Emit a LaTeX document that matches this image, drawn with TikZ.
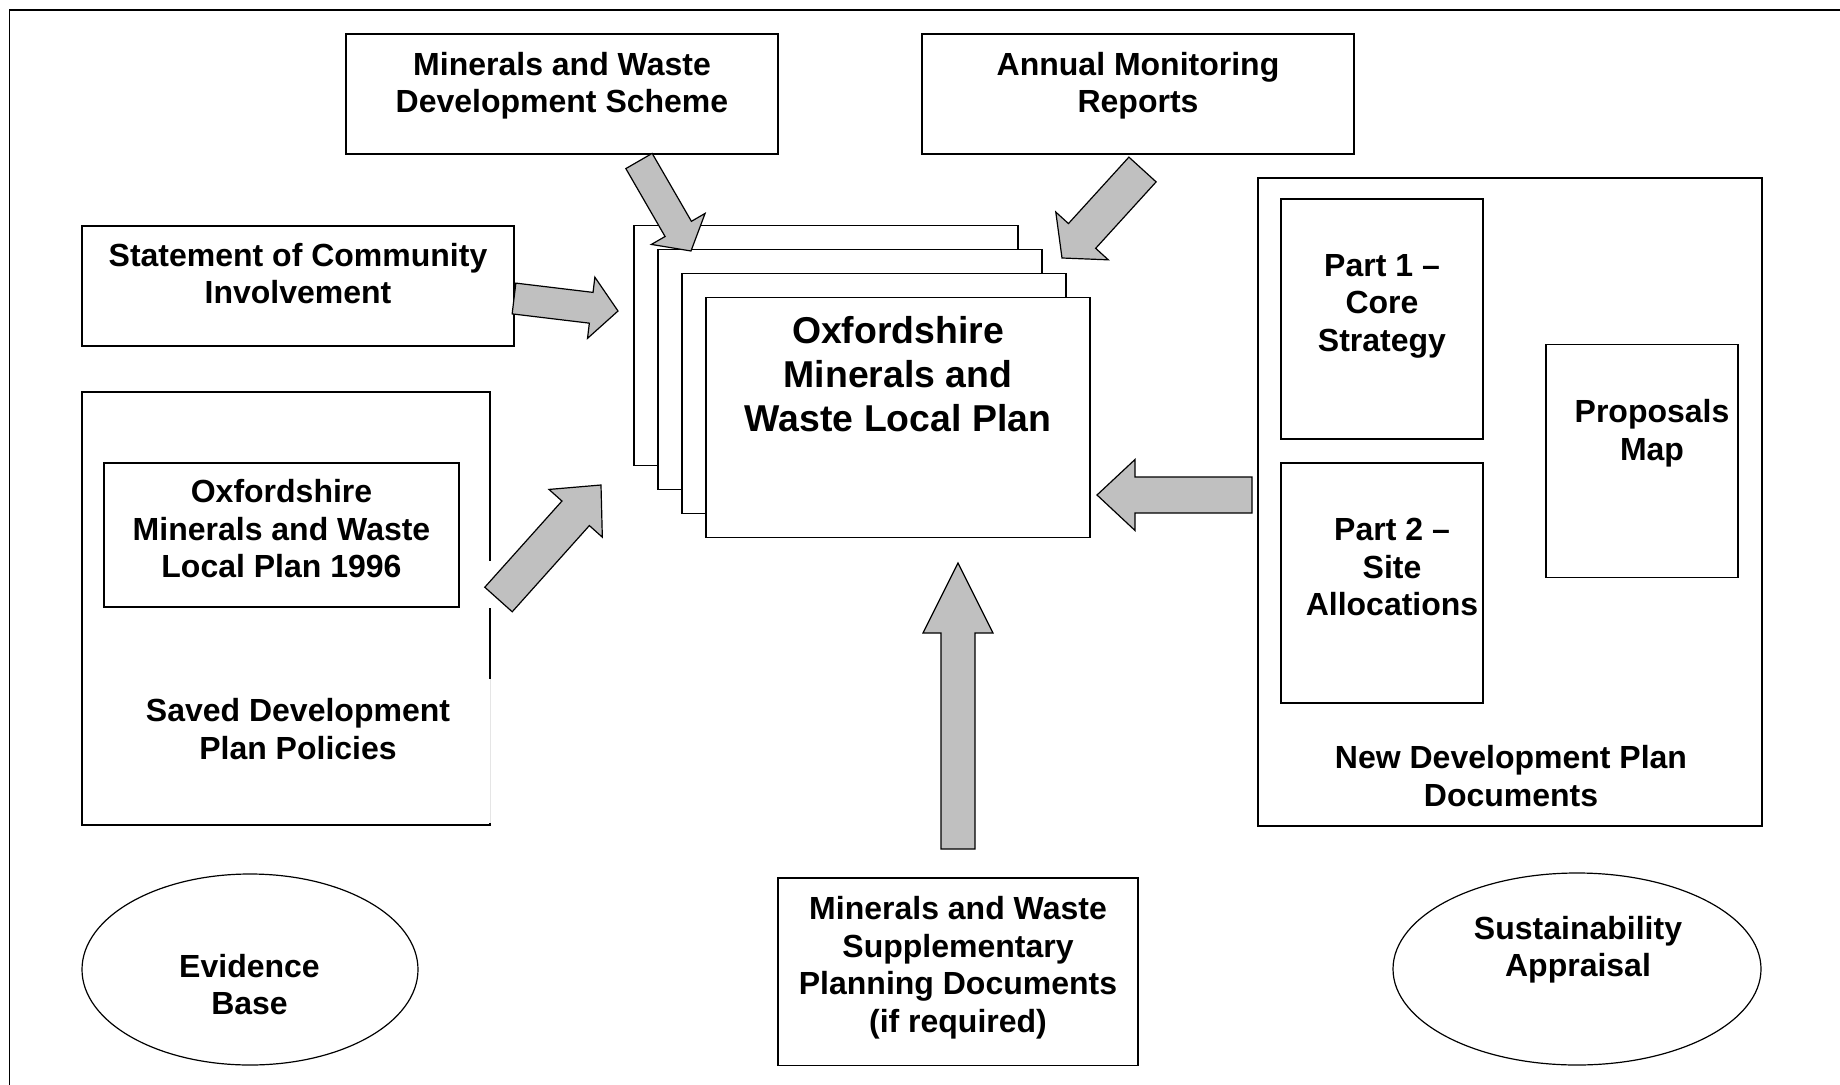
\documentclass[tikz,border=0pt]{standalone}
\usepackage{fontspec}
\setmainfont{Liberation Sans}
\usetikzlibrary{calc,shapes.geometric}
\definecolor{arrowgray}{RGB}{192,192,192}

% mũi tên khối: #1 đuôi, #2 mũi, #3 nửa thân, #4 nửa đầu, #5 dài đầu
\newcommand{\blockarrow}[5]{%
  \coordinate (ba-neck) at ($(#2)!#5!(#1)$);
  \draw[blockarr]
    ($(#1)!#3!90:(#2)$) -- ($(ba-neck)!#3!90:(#2)$) -- ($(ba-neck)!#4!90:(#2)$) -- (#2)
    -- ($(ba-neck)!#4!-90:(#2)$) -- ($(ba-neck)!#3!-90:(#2)$) -- ($(#1)!#3!-90:(#2)$) -- cycle;
}

\begin{document}
\begin{tikzpicture}[x=0.5pt, y=-0.5pt,
    box/.style={draw, line width=0.75pt, fill=white, inner sep=0pt},
    oval/.style={draw, ellipse, line width=0.6pt, inner sep=0pt},
    txt/.style={align=center, inner sep=0pt, font=\bfseries\fontsize{16}{18.75}\selectfont},
    bigtxt/.style={txt, font=\bfseries\fontsize{18.7}{22}\selectfont},
    blockarr/.style={draw, line width=0.6pt, fill=arrowgray, line join=miter},
    frame/.style={line width=0.85pt}]
    \useasboundingbox (0,0) rectangle (1840,1085);

    % 1. Khung ngoài
    \draw[frame] (9.5,1085) |- (1840,10);

    % 2. Các hộp phía trên và bên trái
    \node[box, minimum width=216pt, minimum height=60pt] (mwds) at (562,94) {};
    \node[txt] (mwds-t) at (562,85.6) {Minerals and Waste\\Development Scheme};
    \node[box, minimum width=216pt, minimum height=60pt] (amr) at (1138,94) {};
    \node[txt] (amr-t) at (1138,85.6) {Annual Monitoring\\Reports};
    \node[box, minimum width=216pt, minimum height=60pt] (sci) at (298,286) {};
    \node[txt] (sci-t) at (298,273.5) {Statement of Community\\Involvement};

    \node[box, minimum width=204pt, minimum height=216.5pt] (saved) at (286,608.5) {};
    \node[box, minimum width=177.5pt, minimum height=72pt] (oldplan) at (281.5,535) {};
    \node[txt] (oldplan-t) at (281.5,529) {Oxfordshire\\Minerals and Waste\\Local Plan 1996};
    \node[txt] (saved-t) at (298,729) {Saved Development\\Plan Policies};
    \fill[white] (486,561) rectangle (494,608);
    \fill[white] (486,679) rectangle (494,823);
    \draw[black!10, line width=0.4pt] (490,679) -- (490,823);

    % 3. Chồng tài liệu chính
    \foreach \i in {1,2,3,4} {
        \node[box, minimum width=192pt, minimum height=120pt] (plan\i)
            at ({898-24*(4-\i)},{417.5-24*(4-\i)}) {};
    }
    \node[bigtxt] (plan-t) at (898,374) {Oxfordshire\\Minerals and\\Waste Local Plan};

    % 4. Hộp bên phải
    \node[box, minimum width=252pt, minimum height=324pt] (ndpd) at (1510,502) {};
    \node[txt] (ndpd-t) at (1511,776) {New Development Plan\\Documents};
    \node[box, minimum width=101pt, minimum height=120pt] (part1) at (1382,319) {};
    \node[txt] (part1-t) at (1382,306) {Part 1 –\\Core\\Strategy};
    \node[box, minimum width=101pt, minimum height=120pt] (part2) at (1382,583) {};
    \node[txt] (part2-t) at (1392,567) {Part 2 –\\Site\\Allocations};
    \node[box, minimum width=96pt, minimum height=116.25pt] (pmap) at (1642,461) {};
    \node[txt] (pmap-t) at (1652,433) {Proposals\\Map};

    % 5. Hàng dưới
    \node[box, minimum width=180pt, minimum height=93.75pt] (spd) at (958,971.75) {};
    \node[txt] (spd-t) at (958,967.5) {Minerals and Waste\\Supplementary\\Planning Documents\\(if required)};
    \node[oval, minimum width=168pt, minimum height=95.5pt] (evid) at (250,969.5) {};
    \node[txt] (evid-t) at (249.5,984.5) {Evidence\\Base};
    \node[oval, minimum width=184pt, minimum height=96pt] (sa) at (1577,969) {};
    \node[txt] (sa-t) at (1578,949.8) {Sustainability\\Appraisal};

    % 6. Mũi tên khối
    \coordinate (mwds-tail) at (639,161);     \coordinate (mwds-tip) at (691,251);
    \coordinate (amr-tail) at (1142.5,169.5); \coordinate (amr-tip) at (1062,258);
    \coordinate (sci-tail) at (514,298.5);    \coordinate (sci-tip) at (618,311);
    \coordinate (old-tail) at (498.5,599.5);  \coordinate (old-tip) at (601,485);
    \coordinate (ndpd-tail) at (1252,495);    \coordinate (ndpd-tip) at (1097,495);
    \coordinate (spd-tail) at (958,849);      \coordinate (spd-tip) at (958,563);
    \blockarrow{mwds-tail}{mwds-tip}{7.6pt}{15.5pt}{12.75pt}
    \blockarrow{amr-tail}{amr-tip}{9.2pt}{17.75pt}{14.9pt}
    \blockarrow{sci-tail}{sci-tip}{7.75pt}{15.4pt}{13.5pt}
    \blockarrow{old-tail}{old-tip}{9.2pt}{17.9pt}{19pt}
    \blockarrow{ndpd-tail}{ndpd-tip}{9pt}{17.75pt}{19pt}
    \blockarrow{spd-tail}{spd-tip}{8.5pt}{17.5pt}{35pt}
\end{tikzpicture}
\end{document}
